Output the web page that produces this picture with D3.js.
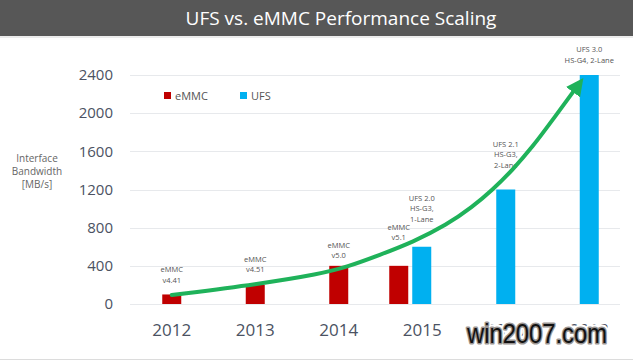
<!doctype html>
<html>
<head>
  <script src="https://d3js.org/d3.v7.min.js" charset="utf-8"></script>
  <style>
    body { margin: 0; background: #fff; }
    svg { display: block; }
  </style>
</head>
<body>
  <div id="viz"></div>
  <script>
    // chart data
    var years = ["2012", "2013", "2014", "2015", "2016", "2018"];
    var emmc = [100, 200, 400, 400, null, null];
    var ufs = [null, null, null, 600, 1200, 2400];
    var yTicks = [0, 400, 800, 1200, 1600, 2000, 2400];
    var emmcNotes = [["eMMC", "v4.41"], ["eMMC", "v4.51"], ["eMMC", "v5.0"], ["eMMC", "v5.1"], null, null];
    var ufsNotes = [null, null, null, ["UFS 2.0", "HS-G3,", "1-Lane"], ["UFS 2.1", "HS-G3,", "2-Lane"], ["UFS 3.0", "HS-G4, 2-Lane"]];
    // trend arrow, as [category position, MB/s]
    var trendIdx = [0, 1.05, 1.77, 2.10, 2.49, 2.89, 3.29, 3.60, 3.84, 4.08, 4.32, 4.56, 4.83];
    var trendVal = [94, 210, 314, 388, 514, 650, 828, 1017, 1195, 1404, 1645, 1928, 2250];

    var W = 633, H = 361;
    var svg = d3.select("#viz").append("svg")
        .attr("width", W).attr("height", H);

    // title bar
    svg.append("rect").attr("x", 0).attr("y", 0).attr("width", W).attr("height", 36)
       .attr("fill", "#575757");
    svg.append("line").attr("x1", 0).attr("x2", W).attr("y1", 37).attr("y2", 37)
       .attr("stroke", "#d8d8d8").attr("stroke-width", 1);
    svg.append("text")
       .attr("x", 341).attr("y", 25)
       .attr("text-anchor", "middle")
       .attr("fill", "#fff")
       .style("font-family", "'Open Sans', sans-serif")
       .style("font-size", "19px")
       .text("UFS vs. eMMC Performance Scaling");

    // bottom frame line
    svg.append("line").attr("x1", 0).attr("x2", W).attr("y1", 359.5).attr("y2", 359.5)
       .attr("stroke", "#dcdcdc");

    var x = d3.scaleBand().domain(years).range([130, 631]).padding(0);
    var y = d3.scaleLinear().domain([0, 2400]).range([304, 75]);
    var xPos = d3.scaleLinear().domain([0, 5]).range([x("2012") + x.bandwidth() / 2, x("2018") + x.bandwidth() / 2]);

    var barW = 19;

    // grid
    svg.append("g").selectAll("line").data(yTicks).enter().append("line")
       .attr("x1", 130).attr("x2", 620)
       .attr("y1", function(d) { return Math.round(y(d)) + 0.5; })
       .attr("y2", function(d) { return Math.round(y(d)) + 0.5; })
       .attr("stroke", "#e7e9ec").attr("stroke-width", 1.2);

    // y axis labels
    var yAxis = svg.append("g")
       .attr("transform", "translate(113,0)")
       .call(d3.axisLeft(y).tickValues(yTicks).tickFormat(d3.format("d")).tickSize(0).tickPadding(0));
    yAxis.select(".domain").remove();
    yAxis.selectAll("text")
       .attr("fill", "#4b5262")
       .style("font-family", "'Open Sans', sans-serif")
       .style("font-size", "15px");

    // x axis labels
    var xAxis = svg.append("g")
       .attr("transform", "translate(0,324)")
       .call(d3.axisBottom(x).tickSize(0).tickPadding(0));
    xAxis.select(".domain").remove();
    xAxis.selectAll("text")
       .attr("fill", "#4b5262")
       .style("font-family", "'Open Sans', sans-serif")
       .style("font-size", "17px");

    // y title
    svg.append("text")
       .attr("x", 37).attr("y", 162)
       .attr("text-anchor", "middle")
       .attr("fill", "#666")
       .style("font-family", "'Open Sans', sans-serif")
       .style("font-size", "10px")
       .selectAll("tspan").data(["Interface", "Bandwidth", "[MB/s]"]).enter().append("tspan")
       .attr("x", 37).attr("dy", function(d, i) { return i ? 13 : 0; })
       .text(function(d) { return d; });

    // bar positions
    function barX(i, kind) {
      var c = x(years[i]) + x.bandwidth() / 2;
      var both = emmc[i] != null && ufs[i] != null;
      if (!both) return c - barW / 2;
      return kind === "e" ? c - 12 - 2 - barW : c - 12 + 2;
    }

    var data = [];
    years.forEach(function(yr, i) {
      if (emmc[i] != null) data.push({ i: i, v: emmc[i], k: "e", note: emmcNotes[i] });
      if (ufs[i] != null) data.push({ i: i, v: ufs[i], k: "u", note: ufsNotes[i] });
    });

    svg.append("g").selectAll("rect").data(data).enter().append("rect")
       .attr("x", function(d) { return barX(d.i, d.k); })
       .attr("y", function(d) { return y(d.v); })
       .attr("width", barW)
       .attr("height", function(d) { return y(0) - y(d.v); })
       .attr("fill", function(d) { return d.k === "e" ? "#c00000" : "#00b0f0"; });

    // annotations above bars
    var lift = { "0e": 22, "1e": 23, "2e": 18, "3e": 36, "3u": 46, "4u": 43, "5u": 23 };
    data.forEach(function(d) {
      if (!d.note) return;
      var cx = barX(d.i, d.k) + barW / 2;
      var top = y(d.v) - lift[d.i + d.k];
      var t = svg.append("text")
         .attr("text-anchor", "middle")
         .attr("fill", "#555")
         .style("font-family", "'Open Sans', sans-serif")
         .style("font-size", "7.5px");
      t.selectAll("tspan").data(d.note).enter().append("tspan")
         .attr("x", cx)
         .attr("y", function(s, j) { return top + j * 10.5; })
         .text(function(s) { return s; });
    });

    // legend
    var legend = svg.append("g");
    [["eMMC", "#c00000", 164], ["UFS", "#00b0f0", 240]].forEach(function(l) {
      legend.append("rect").attr("x", l[2]).attr("y", 92).attr("width", 7).attr("height", 7).attr("fill", l[1]);
      legend.append("text").attr("x", l[2] + 11).attr("y", 100)
        .attr("fill", "#555")
        .style("font-family", "'Open Sans', sans-serif")
        .style("font-size", "11px")
        .text(l[0]);
    });

    // trend arrow
    svg.append("defs").append("marker")
       .attr("id", "head")
       .attr("viewBox", "0 0 10 10")
       .attr("refX", 2).attr("refY", 5)
       .attr("markerWidth", 4.4).attr("markerHeight", 4.4)
       .attr("markerUnits", "strokeWidth")
       .attr("orient", "auto")
       .append("path").attr("d", "M0,0 L10,5 L0,10 z").attr("fill", "#1fb25a");

    var line = d3.line()
       .x(function(d) { return xPos(d[0]); })
       .y(function(d) { return y(d[1]); })
       .curve(d3.curveBasis);

    svg.append("path")
       .datum(trendIdx.map(function(d, i) { return [d, trendVal[i]]; }))
       .attr("d", line)
       .attr("fill", "none")
       .attr("stroke", "#1fb25a")
       .attr("stroke-width", 4)
       .attr("stroke-linecap", "round")
       .attr("marker-end", "url(#head)");

    // watermark
    var wm = svg.append("g");
    [["#fff", 7], ["#9a9592", 3]].forEach(function(s) {
      wm.append("text")
       .attr("x", 467).attr("y", 343)
       .attr("textLength", 140).attr("lengthAdjust", "spacingAndGlyphs")
       .attr("fill", "#111")
       .attr("stroke", s[0]).attr("stroke-width", s[1])
       .attr("stroke-linejoin", "round")
       .attr("paint-order", "stroke")
       .style("font-family", "'Liberation Sans Narrow', 'Liberation Sans', sans-serif")
       .style("font-size", "28px")
       .text("win2007.com");
    });
  </script>
</body>
</html>
